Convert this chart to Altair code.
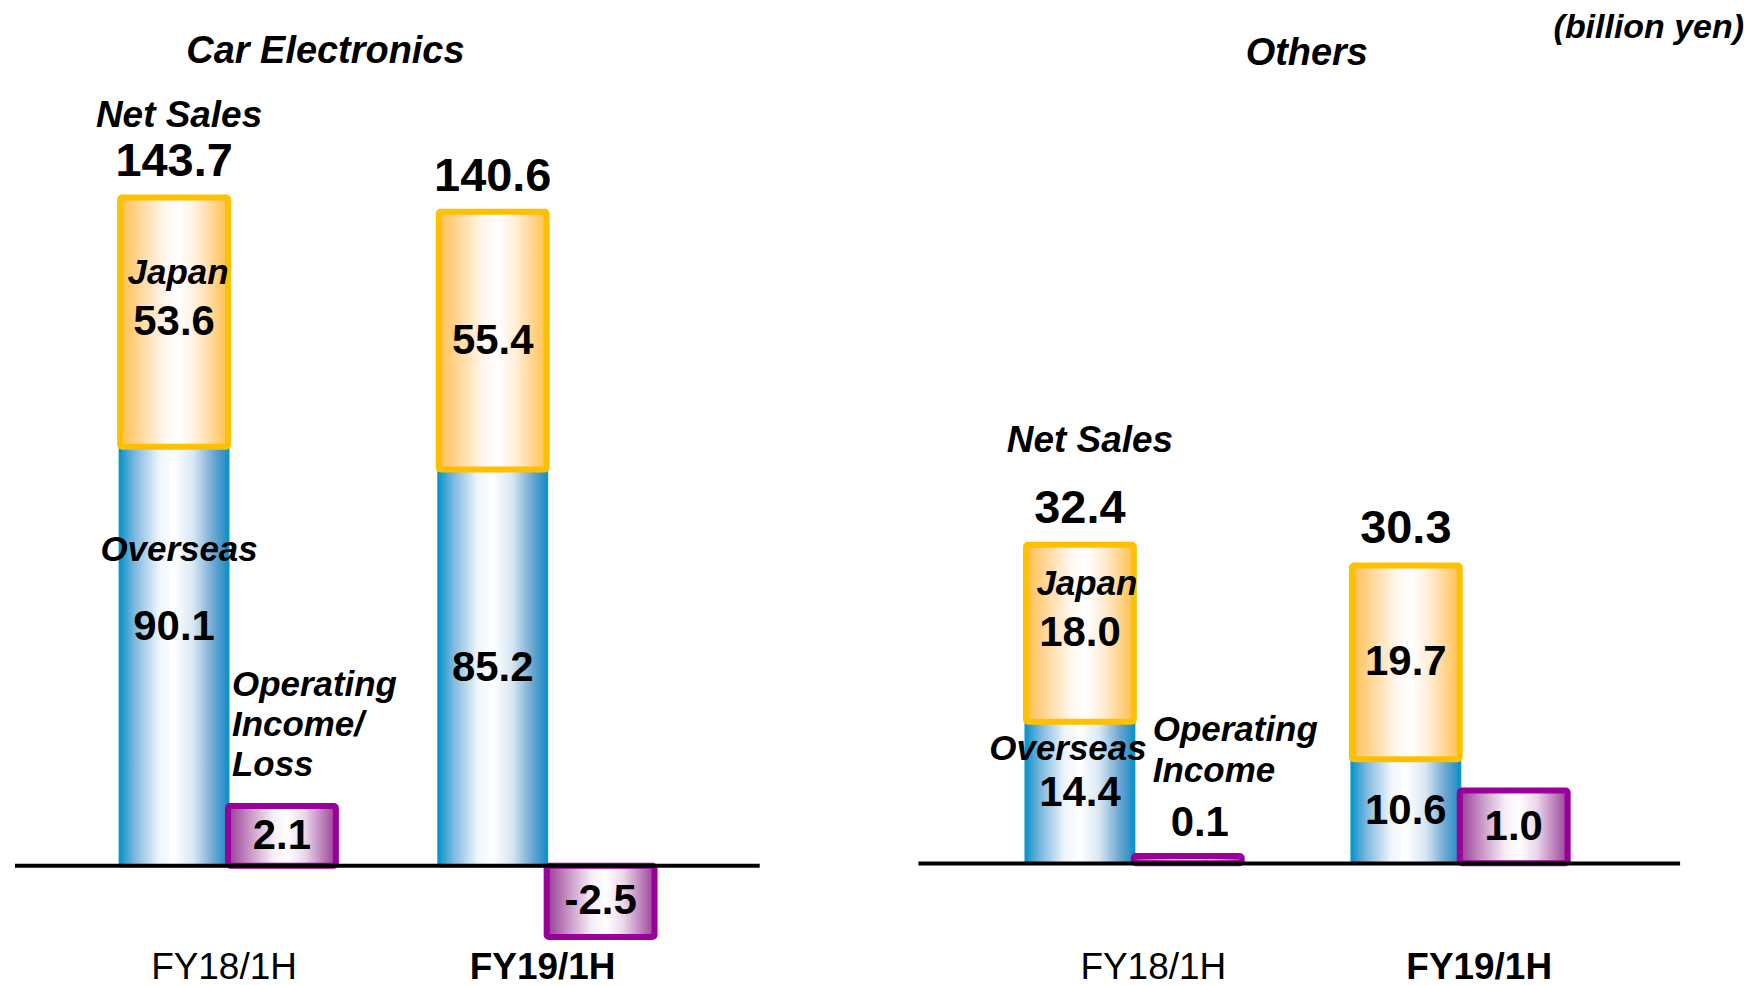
import altair as alt
import pandas as pd

# ---------------- data ----------------
periods = ["FY18/1H", "FY19/1H"]
car_japan = [53.6, 55.4]
car_overseas = [90.1, 85.2]
car_total = [143.7, 140.6]
car_oi = [2.1, -2.5]
oth_japan = [18.0, 19.7]
oth_overseas = [14.4, 10.6]
oth_total = [32.4, 30.3]
oth_oi = [0.1, 1.0]
panel_titles = ["Car Electronics", "Others"]
oi_titles = [["Operating", "Income/", "Loss"], ["Operating", "Income"]]
unit_label = "(billion yen)"

FONT = "Liberation Sans"


def grad(stops):
    return alt.Gradient(
        gradient="linear", x1=0, x2=1, y1=0, y2=0,
        stops=[alt.GradientStop(offset=o, color=c) for o, c in stops],
    )


BLUE = grad([(0, "#0F93CA"), (0.14, "#80B9DE"), (0.36, "#EEF5FB"), (0.5, "#FFFFFF"),
             (0.68, "#D8E7F3"), (0.87, "#6BA6D2"), (1, "#1A8CC5")])
YELLOW = grad([(0, "#FFBE50"), (0.2, "#FFDAA0"), (0.42, "#FFF8F0"), (0.55, "#FFFFFF"),
               (0.72, "#FFEDD5"), (1, "#FFBF4C")])
PURPLE = grad([(0, "#983A96"), (0.2, "#C795C6"), (0.42, "#F7EEF7"), (0.55, "#FFFFFF"),
               (0.72, "#E8D4E8"), (1, "#9A3F98")])


def panel(title, japan, overseas, total, oi, oi_text, cfg):
    W, H = cfg["W"], cfg["H"]
    df = pd.DataFrame({"period": periods, "japan": japan, "overseas": overseas,
                       "total": total, "oi": oi})
    S = alt.Scale(domain=cfg["sdom"], nice=False, zero=False)
    O = alt.Scale(domain=cfg["odom"], nice=False, zero=False)
    x = alt.X("period:N", sort=periods,
              scale=alt.Scale(paddingInner=0.323, paddingOuter=0.33),
              axis=alt.Axis(title=None, domain=False, ticks=False, tickSize=0, labelAngle=0,
                            labelFont=FONT, labelFontSize=37, labelColor="black",
                            labelPadding=5, labelOffset=cfg["label_off"],
                            labelFontWeight={"condition": {"test": "datum.value === 'FY19/1H'",
                                                           "value": "bold"},
                                             "value": "normal"}))
    xo = alt.XOffset("kind:N", scale=alt.Scale(domain=["Sales", "OI"], paddingInner=0,
                                               paddingOuter=0), sort=["Sales", "OI"])
    base = alt.Chart(df)
    sales = base.transform_calculate(kind="'Sales'")
    oib = base.transform_calculate(
        kind="'OI'",
        lab="(datum.oi < 0 ? '-' : '') + format(abs(datum.oi), '.1f')")
    first = "datum.period === 'FY18/1H'"

    overseas_bar = sales.transform_calculate(lo="0", hi="datum.overseas").mark_bar(
        fill=BLUE, stroke="#0A97CB", strokeWidth=3, cornerRadius=2
    ).encode(x=x, xOffset=xo, y=alt.Y("lo:Q", scale=S, axis=None), y2="hi:Q")
    japan_bar = sales.transform_calculate(lo="datum.overseas",
                                          hi="datum.overseas + datum.japan").mark_bar(
        fill=YELLOW, stroke="#FFC000", strokeWidth=6, cornerRadius=2
    ).encode(x=x, xOffset=xo, y=alt.Y("lo:Q", scale=S, axis=None), y2="hi:Q")
    oi_bar = oib.mark_bar(fill=PURPLE, stroke="#990099", strokeWidth=6, cornerRadius=2).encode(
        x=x, xOffset=xo, y=alt.Y("oi:Q", scale=O, axis=None), y2=alt.Y2Datum(0))
    zero = alt.Chart(pd.DataFrame({"z": [0]})).mark_rule(color="black", strokeWidth=4).encode(
        y=alt.Y("z:Q", scale=S, axis=None))

    bold = dict(font=FONT, fontWeight="bold", color="black")
    ital = dict(font=FONT, fontWeight="bold", fontStyle="italic", color="black")

    totals = sales.mark_text(fontSize=47, baseline="alphabetic", dy=cfg["total_dy"], **bold).encode(
        x=x, xOffset=xo, y=alt.Y("total:Q", scale=S, axis=None),
        text=alt.Text("total:Q", format=".1f"))
    net_sales = sales.transform_filter(first).mark_text(
        text="Net Sales", fontSize=37, baseline="alphabetic", dy=cfg["net_dy"], dx=cfg["net_dx"],
        **ital).encode(x=x, xOffset=xo, y=alt.Y("total:Q", scale=S, axis=None))
    jmid = sales.transform_calculate(m="datum.overseas + datum.japan / 2")
    japan_lbl = jmid.transform_filter(first).mark_text(
        text="Japan", fontSize=35, baseline="middle", dy=-49, dx=cfg["jap_dx"], **ital).encode(
        x=x, xOffset=xo, y=alt.Y("m:Q", scale=S, axis=None))
    japan_val = jmid.mark_text(fontSize=42, baseline="middle", **bold).encode(
        x=x, xOffset=xo, y=alt.Y("m:Q", scale=S, axis=None),
        text=alt.Text("japan:Q", format=".1f"))
    omid = sales.transform_calculate(m="datum.overseas / 2")
    ov_val1 = omid.transform_filter(first).mark_text(
        fontSize=42, baseline="middle", dy=cfg["ov_dy"], **bold).encode(
        x=x, xOffset=xo, y=alt.Y("m:Q", scale=S, axis=None),
        text=alt.Text("overseas:Q", format=".1f"))
    ov_val2 = omid.transform_filter("!(" + first + ")").mark_text(
        fontSize=42, baseline="middle", **bold).encode(
        x=x, xOffset=xo, y=alt.Y("m:Q", scale=S, axis=None),
        text=alt.Text("overseas:Q", format=".1f"))
    ov_lbl = sales.transform_filter(first).mark_text(
        text="Overseas", fontSize=35, baseline="middle", dy=cfg["ovl_dy"], dx=cfg["ovl_dx"],
        **ital).encode(x=x, xOffset=xo, y=alt.Y("overseas:Q", scale=S, axis=None))

    oi_in = oib.transform_filter("abs(datum.oi) >= 0.5").transform_calculate(
        m="datum.oi / 2").mark_text(fontSize=42, baseline="middle", **bold).encode(
        x=x, xOffset=xo, y=alt.Y("m:Q", scale=O, axis=None), text="lab:N")
    oi_out = oib.transform_filter("abs(datum.oi) < 0.5").mark_text(
        fontSize=42, baseline="alphabetic", dy=-20, dx=12, **bold).encode(
        x=x, xOffset=xo, y=alt.Y("oi:Q", scale=O, axis=None), text="lab:N")
    oi_lbl = oib.transform_filter(first).mark_text(
        text=oi_text, fontSize=35, align="left", baseline="alphabetic", lineHeight=cfg["oi_lh"],
        dx=cfg["oi_dx"], dy=cfg["oi_dy"], **ital).encode(
        x=x, xOffset=xo, y=alt.Y("oi:Q", scale=O, axis=None))

    ttl = alt.Chart(pd.DataFrame({"t": [title]})).mark_text(
        fontSize=38, align="center", baseline="alphabetic", **ital).encode(
        text="t:N", x=alt.value(cfg["title_x"]), y=alt.value(cfg["title_y"]))

    layers = [overseas_bar, japan_bar, oi_bar, zero, totals, net_sales, japan_lbl, japan_val,
              ov_val1, ov_val2, ov_lbl, oi_in, oi_out, oi_lbl, ttl]
    if cfg.get("unit"):
        unit = alt.Chart(pd.DataFrame({"t": [unit_label]})).mark_text(
            fontSize=34, align="right", baseline="alphabetic", **ital).encode(
            text="t:N", x=alt.value(W + 64), y=alt.value(37 - 90))
        layers.append(unit)

    return alt.layer(*layers).resolve_scale(y="independent").properties(width=W, height=H)


H = 855
left_cfg = dict(W=746, H=H, sdom=[-16.87, 166.64], odom=[-2.758, 27.24], label_off=-4,
                total_dy=-21, net_dy=-71, net_dx=5, jap_dx=4, ov_dy=-29, ovl_dy=104, ovl_dx=5,
                oi_lh=40, oi_dx=-50, oi_dy=-110, title_x=311, title_y=-28)
right_cfg = dict(W=763, H=H, sdom=[-8.22, 78.58], odom=[-1.11, 10.60], label_off=17,
                 total_dy=-22, net_dy=-93, net_dx=10, jap_dx=7, ov_dy=0, ovl_dy=27, ovl_dx=-12,
                 oi_lh=41, oi_dx=-35, oi_dy=-115, title_x=389, title_y=-26, unit=True)

left = panel(panel_titles[0], car_japan, car_overseas, car_total, car_oi, oi_titles[0], left_cfg)
right = panel(panel_titles[1], oth_japan, oth_overseas, oth_total, oth_oi, oi_titles[1], right_cfg)

chart = alt.hconcat(left, right, spacing=155).properties(
    padding={"left": 13, "top": 10, "right": 0, "bottom": 0},
    background="white",
).configure_view(stroke=None)

chart.save("out.html", embed_options={"renderer": "svg", "actions": False})
